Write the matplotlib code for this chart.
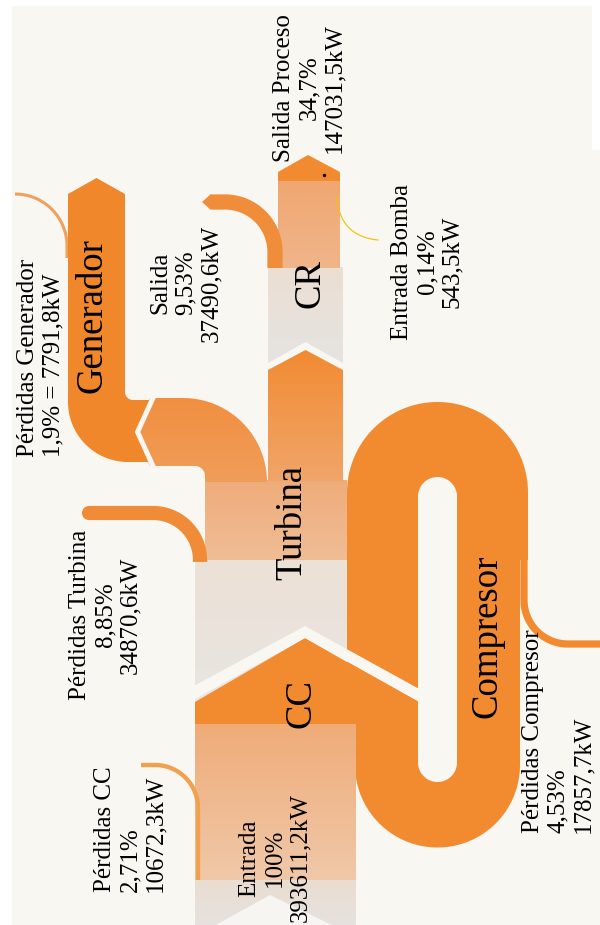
import numpy as np
import matplotlib
matplotlib.use("Agg")
import matplotlib.pyplot as plt
from matplotlib.patches import Polygon, Circle, Rectangle
from matplotlib.colors import LinearSegmentedColormap

# datos del diagrama de Sankey (balance de energía)
flujos = ["Entrada", "Pérdidas CC", "Pérdidas Turbina", "Pérdidas Compresor",
          "Pérdidas Generador", "Salida", "Salida Proceso", "Entrada Bomba"]
porcentajes = [100, 2.71, 8.85, 4.53, 1.9, 9.53, 34.7, 0.14]
potencias_kw = [393611.2, 10672.3, 34870.6, 17857.7, 7791.8, 37490.6, 147031.5, 543.5]
nodos = ["Generador", "CR", "Turbina", "Compresor", "CC"]

ESC = 1.6  # px de ancho por punto porcentual
ancho = {f: p * ESC for f, p in zip(flujos, porcentajes)}

BG = "#f9f7f1"
NAR = "#f28a2f"
PT = 72 / 100  # puntos por pixel (dpi 100)

fig = plt.figure(figsize=(6, 9.25), dpi=100, facecolor=BG)
ax = fig.add_axes([0, 0, 1, 1])
ax.set_xlim(0, 600)
ax.set_ylim(925, 0)
ax.set_autoscale_on(False)
ax.axis("off")

_z = [1]
def nz():
    _z[0] += 1
    return _z[0]

def poly(pts, color):
    p = Polygon(np.asarray(pts, float), closed=True, fc=color, ec="none", zorder=nz())
    ax.add_patch(p)
    return p

def grad(pts, c0, c1):
    pts = np.asarray(pts, float)
    p = Polygon(pts, closed=True, fc="none", ec="none")
    ax.add_patch(p)
    x0, y0 = pts.min(0)
    x1, y1 = pts.max(0)
    cm = LinearSegmentedColormap.from_list("g", [c0, c1])
    im = ax.imshow(np.linspace(0, 1, 100)[:, None], cmap=cm, extent=[x0, x1, y1, y0],
                   aspect="auto", interpolation="bilinear", zorder=nz())
    im.set_clip_path(p)

def arc(cx, cy, r, a0, a1, n=60):
    t = np.radians(np.linspace(a0, a1, n))
    return np.column_stack([cx + r * np.cos(t), cy + r * np.sin(t)])

def cinta(pts, w, color):
    pts = np.asarray(pts, float)
    ax.plot(pts[:, 0], pts[:, 1], lw=w * PT, color=color, solid_capstyle="butt",
            solid_joinstyle="round", zorder=nz())

# --- compresor (lazo) ---
lazo = np.vstack([[[347, 700]], arc(437.5, 492.5, 90.5, 180, 360),
                  [[528, 560], [520, 560]], arc(437.5, 765, 82.5, 0, 180), [[355, 700]]])
poly(lazo, NAR)
poly(np.vstack([arc(437.5, 496.5, 19.5, 180, 360), arc(437.5, 762.5, 19.5, 0, 180)]), BG)
cinta(np.vstack([[[524, 556]], arc(568, 600, 44, 180, 90), [[605, 644]]]),
      ancho["Pérdidas Compresor"], NAR)

# --- entrada + CC ---
grad([[195, 720], [356, 720], [356, 880], [195, 880]], "#f0ab77", "#efc8a9")
grad([[195, 880], [356, 880], [356, 926], [195, 926]], "#eaddd1", "#e6e2df")
poly([[212, 927], [270, 895], [336, 927]], "#f7f5f1")
cinta(np.vstack([[[198, 880]], arc(155, 808, 43, 0, -90), [[141, 765]]]),
      ancho["Pérdidas CC"], "#f1a050")

# --- turbina ---
grad([[195, 560], [347, 560], [347, 705], [195, 705]], "#ece1d6", "#e8e5e2")
grad([[205, 480], [347, 480], [347, 560], [205, 560]], "#f0ac7a", "#efbd95")
cinta(np.vstack([[[200, 562]], arc(153, 560, 47, 0, -90), [[89, 513]]]),
      ancho["Pérdidas Turbina"], "#f08c38")
ax.add_patch(Circle((89, 513), ancho["Pérdidas Turbina"] / 2, fc="#f08c38", ec="none", zorder=nz()))

poly([[195, 724], [195, 702], [305, 638], [418, 703], [418, 724]], NAR)
poly([[190, 688], [305, 626], [421, 690], [421, 703], [305, 638], [190, 702]], BG)

# --- generador ---
cinta(np.vstack([arc(15, 246, 52, -90, 0), [[67, 258]]]), ancho["Pérdidas Generador"], "#f0a05a")
gen = np.vstack([[[68, 194], [96.5, 178], [125, 194], [125, 392]], arc(133, 392, 8, 180, 90),
                 [[152, 400], [152, 462], [128, 462]], arc(128, 402, 60, 90, 180)])
poly(gen, "#f0872b")
rama = np.vstack([[[267, 482]], arc(183, 482, 84, 0, -90),
                  [[150, 398], [136, 432], [150, 466], [195, 466]],
                  arc(195, 476, 10, -90, 0), [[205, 482]]])
grad(rama, "#f18f40", "#f09d5a")
ax.plot([153, 137.5, 153], [398, 432, 466], color=BG, lw=5 * PT,
        solid_joinstyle="miter", zorder=nz())

# --- CR ---
grad([[268, 370], [305.5, 350], [343, 370], [343, 481], [268, 481]], "#f28b33", "#f0a569")
grad([[268, 267], [343, 267], [343, 363], [305.5, 342], [268, 363]], "#ecdfd3", "#e5e3e1")
grad([[278, 179], [340, 179], [340, 268], [278, 268]], "#f0a770", "#f0b58a")
poly([[278, 181], [278, 172], [308, 155], [340, 172], [340, 181]], NAR)
cinta(np.vstack([[[275, 268]], arc(225, 252, 50, 0, -90), [[210, 202]]]),
      ancho["Salida"], "#f08d3a")
poly([[210.5, 194.4], [202, 202], [210.5, 209.6]], "#f08d3a")

t = np.linspace(0, 1, 40)[:, None]
P0, P1, P2 = np.array([337, 196]), np.array([339, 236]), np.array([378, 240])
bez = (1 - t) ** 2 * P0 + 2 * (1 - t) * t * P1 + t ** 2 * P2
ax.plot(bez[:, 0], bez[:, 1], color="#f4c20d", lw=max(ancho["Entrada Bomba"], 1.2) * PT, zorder=nz())
ax.plot([324], [175], "o", ms=1.5, color="black", zorder=nz())

# --- textos ---
FAM = ["Liberation Serif", "DejaVu Serif"]

def fmt_pct(p):
    return f"{p:g}".replace(".", ",") + "%"

def fmt_kw(v):
    return f"{v:.1f}".replace(".", ",") + "kW"

pos_etq = {
    "Entrada": (275, 858, "center", "center"),
    "Pérdidas CC": (130, 892, "left", "bottom"),
    "Pérdidas Turbina": (105, 615, "center", "center"),
    "Pérdidas Compresor": (558, 833, "left", "bottom"),
    "Pérdidas Generador": (41, 457, "left", "bottom"),
    "Salida": (186, 283, "center", "center"),
    "Salida Proceso": (309, 88, "center", "center"),
    "Entrada Bomba": (427, 262, "center", "center"),
}
for f, p, v in zip(flujos, porcentajes, potencias_kw):
    if f == "Pérdidas Generador":
        s = f"{f}\n{fmt_pct(p)} = {fmt_kw(v)}"
    else:
        s = f"{f}\n{fmt_pct(p)}\n{fmt_kw(v)}"
    x, y, mal, va = pos_etq[f]
    ax.text(x, y, s, rotation=90, fontsize=18, family=FAM, ha="center", va=va,
            multialignment=mal, linespacing=1.2, zorder=100)

pos_nodo = {"Generador": (92, 316), "CR": (310, 284), "Turbina": (292, 523),
            "Compresor": (487, 636), "CC": (301, 704)}
for n in nodos:
    x, y = pos_nodo[n]
    ax.text(x, y, n, rotation=90, fontsize=26.5, family=FAM, ha="center", va="center", zorder=100)

# bordes blancos de la imagen original
for r in [(0, 0, 12, 925), (0, 0, 600, 6), (592, 0, 8, 150)]:
    ax.add_patch(Rectangle(r[:2], r[2], r[3], fc="white", ec="none", zorder=200))

ax.set_xlim(0, 600)
ax.set_ylim(925, 0)
fig.savefig("out.png", dpi=100, facecolor=BG)
